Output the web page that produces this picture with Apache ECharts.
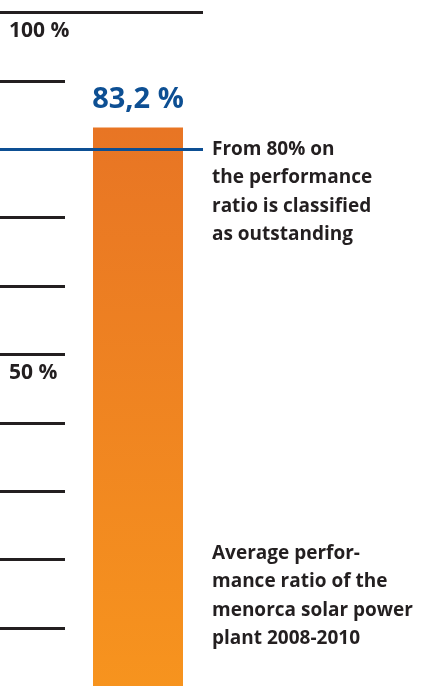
<!DOCTYPE html>
<html>
<head>
<meta charset="utf-8">
<script src="https://cdn.jsdelivr.net/npm/echarts@6/dist/echarts.min.js"></script>
<style>
html,body{margin:0;padding:0;background:#fff;}
#chart{width:425px;height:686px;}
</style>
</head>
<body>
<div id="chart"></div>
<script>
// ---- data ----
const categories = ['Menorca 2008-2010'];
const performanceRatio = [83.2];
const valueLabels = ['83,2 %'];
const tickLabels = { 100: '100 %', 50: '50 %' };
const referenceLines = [
  { value: 100, kind: 'top' },
  { value: 80, kind: 'threshold' }
];
const thresholdNote = 'From 80% on\nthe performance\nratio is classified\nas outstanding';
const seriesNote = 'Average perfor-\nmance ratio of the\nmenorca solar power\nplant 2008-2010';

const FONT = '"Open Sans"';
const DARK = '#231f20';
const BLUE = '#0d4f93';

const chart = echarts.init(document.getElementById('chart'), null, { renderer: 'canvas' });

const gridTop = 12.5, gridHeight = 684;
const yBase = { type: 'value', min: 0, max: 100, interval: 10 };
const gridBase = { top: gridTop, height: gridHeight, outerBoundsMode: 'none', containLabel: false };

const option = {
  animation: false,
  backgroundColor: '#fff',
  grid: [
    Object.assign({ left: 0, width: 65 }, gridBase),
    Object.assign({ left: 0, width: 203 }, gridBase),
    Object.assign({ left: 93, width: 90 }, gridBase)
  ],
  xAxis: [
    { gridIndex: 0, type: 'value', show: false },
    { gridIndex: 1, type: 'value', show: false, min: 0, max: 1 },
    { gridIndex: 2, type: 'category', data: categories, show: false }
  ],
  yAxis: [
    Object.assign({}, yBase, {
      gridIndex: 0,
      axisLine: { show: false },
      axisTick: { show: false },
      splitLine: { show: true, lineStyle: { color: DARK, width: 3 } },
      axisLabel: {
        show: true,
        inside: true,
        margin: 9,
        showMinLabel: true,
        showMaxLabel: true,
        formatter: v => tickLabels[v] || '',
        color: DARK,
        fontFamily: FONT,
        fontWeight: 'bold',
        fontSize: 21,
        lineHeight: 22,
        verticalAlign: 'top',
        align: 'left',
        padding: [8, 0, 0, 0]
      }
    }),
    Object.assign({}, yBase, { gridIndex: 1, show: false }),
    Object.assign({}, yBase, { gridIndex: 2, show: false })
  ],
  graphic: [
    {
      type: 'text', left: 212, top: 135,
      style: { text: thresholdNote, fontFamily: FONT, fontWeight: 'bold', fontSize: 19, lineHeight: 28.5, fill: DARK }
    },
    {
      type: 'text', left: 212, top: 539,
      style: { text: seriesNote, fontFamily: FONT, fontWeight: 'bold', fontSize: 19, lineHeight: 28.5, fill: DARK }
    }
  ],
  series: [
    {
      type: 'scatter',
      xAxisIndex: 1, yAxisIndex: 1,
      symbolSize: 0,
      data: [[0.5, 50]],
      silent: true,
      z: 5,
      markLine: {
        silent: true,
        symbol: ['none', 'none'],
        label: { show: false },
        lineStyle: { type: 'solid', width: 3 },
        data: referenceLines.map(r => ({
          yAxis: r.value,
          lineStyle: { type: 'solid', width: 3, color: r.kind === 'threshold' ? BLUE : DARK }
        }))
      }
    },
    {
      type: 'bar',
      xAxisIndex: 2, yAxisIndex: 2,
      data: performanceRatio,
      barWidth: '100%',
      z: 2,
      itemStyle: {
        color: new echarts.graphic.LinearGradient(0, 0, 0, 1, [
          { offset: 0, color: '#e87524' },
          { offset: 1, color: '#f7941e' }
        ])
      },
      label: {
        show: true,
        position: 'top',
        distance: 13,
        formatter: p => valueLabels[p.dataIndex],
        color: BLUE,
        fontFamily: FONT,
        fontWeight: 'bold',
        fontSize: 29,
        lineHeight: 30
      }
    }
  ]
};
chart.setOption(option);
</script>
</body>
</html>
